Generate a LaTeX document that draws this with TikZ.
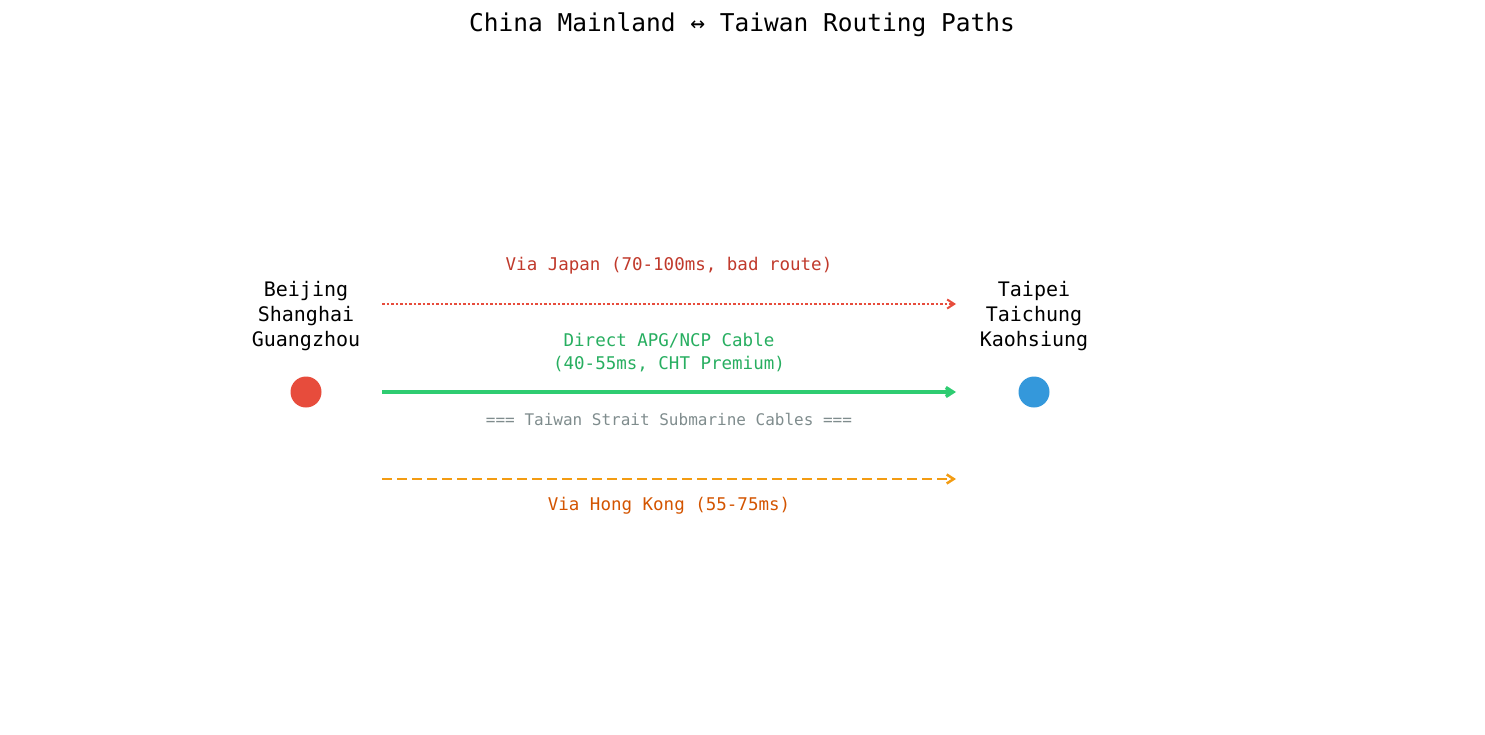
\documentclass[tikz,border=0pt]{standalone}
\usepackage{fontspec}
\setmainfont{DejaVu Sans Mono}
\usetikzlibrary{arrows.meta}
\definecolor{cred}{HTML}{E74C3C}\definecolor{lred}{HTML}{C0392B}
\definecolor{cgreen}{HTML}{2ECC71}\definecolor{lgreen}{HTML}{27AE60}
\definecolor{corange}{HTML}{F39C12}\definecolor{lorange}{HTML}{D35400}
\definecolor{cblue}{HTML}{3498DB}\definecolor{cgray}{HTML}{7F8C8D}
\begin{document}
\begin{tikzpicture}[x=1pt,y=-1pt,
  city/.style={align=center,font=\fontsize{20}{25}\selectfont,inner sep=0},
  lab/.style={align=center,font=\fontsize{17.5}{23}\selectfont,inner sep=0},
  arr/.style={-{Straight Barb[length=7pt,width=9pt]}}]
\useasboundingbox (0,0) rectangle (1485,734);
\node[font=\fontsize{24.5}{28}\selectfont] (title) at (742,25) {China Mainland ↔ Taiwan Routing Paths};
\node[city] (cn) at (306,316) {Beijing\\Shanghai\\Guangzhou};
\node[city] (tw) at (1034,316) {Taipei\\Taichung\\Kaohsiung};
\node[circle,fill=cred,minimum size=31pt,inner sep=0] (d1) at (306,392) {};
\node[circle,fill=cblue,minimum size=31pt,inner sep=0] (d2) at (1034,392) {};
\coordinate (a1) at (382,304); \coordinate (b1) at (956,304);
\coordinate (a2) at (382,392); \coordinate (b2) at (956,392);
\coordinate (a3) at (382,479); \coordinate (b3) at (956,479);
\draw[arr,cred,line width=2pt,dash pattern=on 2.5pt off 2pt] (a1) -- (b1);
\draw[arr,cgreen,line width=3.5pt] (a2) -- (b2);
\draw[arr,corange,line width=2.5pt,dash pattern=on 10pt off 5pt] (a3) -- (b3);
\node[lab,text=lred] (l1) at (669,266) {Via Japan (70-100ms, bad route)};
\node[lab,text=lgreen] (l2) at (669,353) {Direct APG/NCP Cable\\(40-55ms, CHT Premium)};
\node[font=\fontsize{16}{20}\selectfont,text=cgray] (l3) at (669,419) {=== Taiwan Strait Submarine Cables ===};
\node[lab,text=lorange] (l4) at (669,506) {Via Hong Kong (55-75ms)};
\end{tikzpicture}
\end{document}
